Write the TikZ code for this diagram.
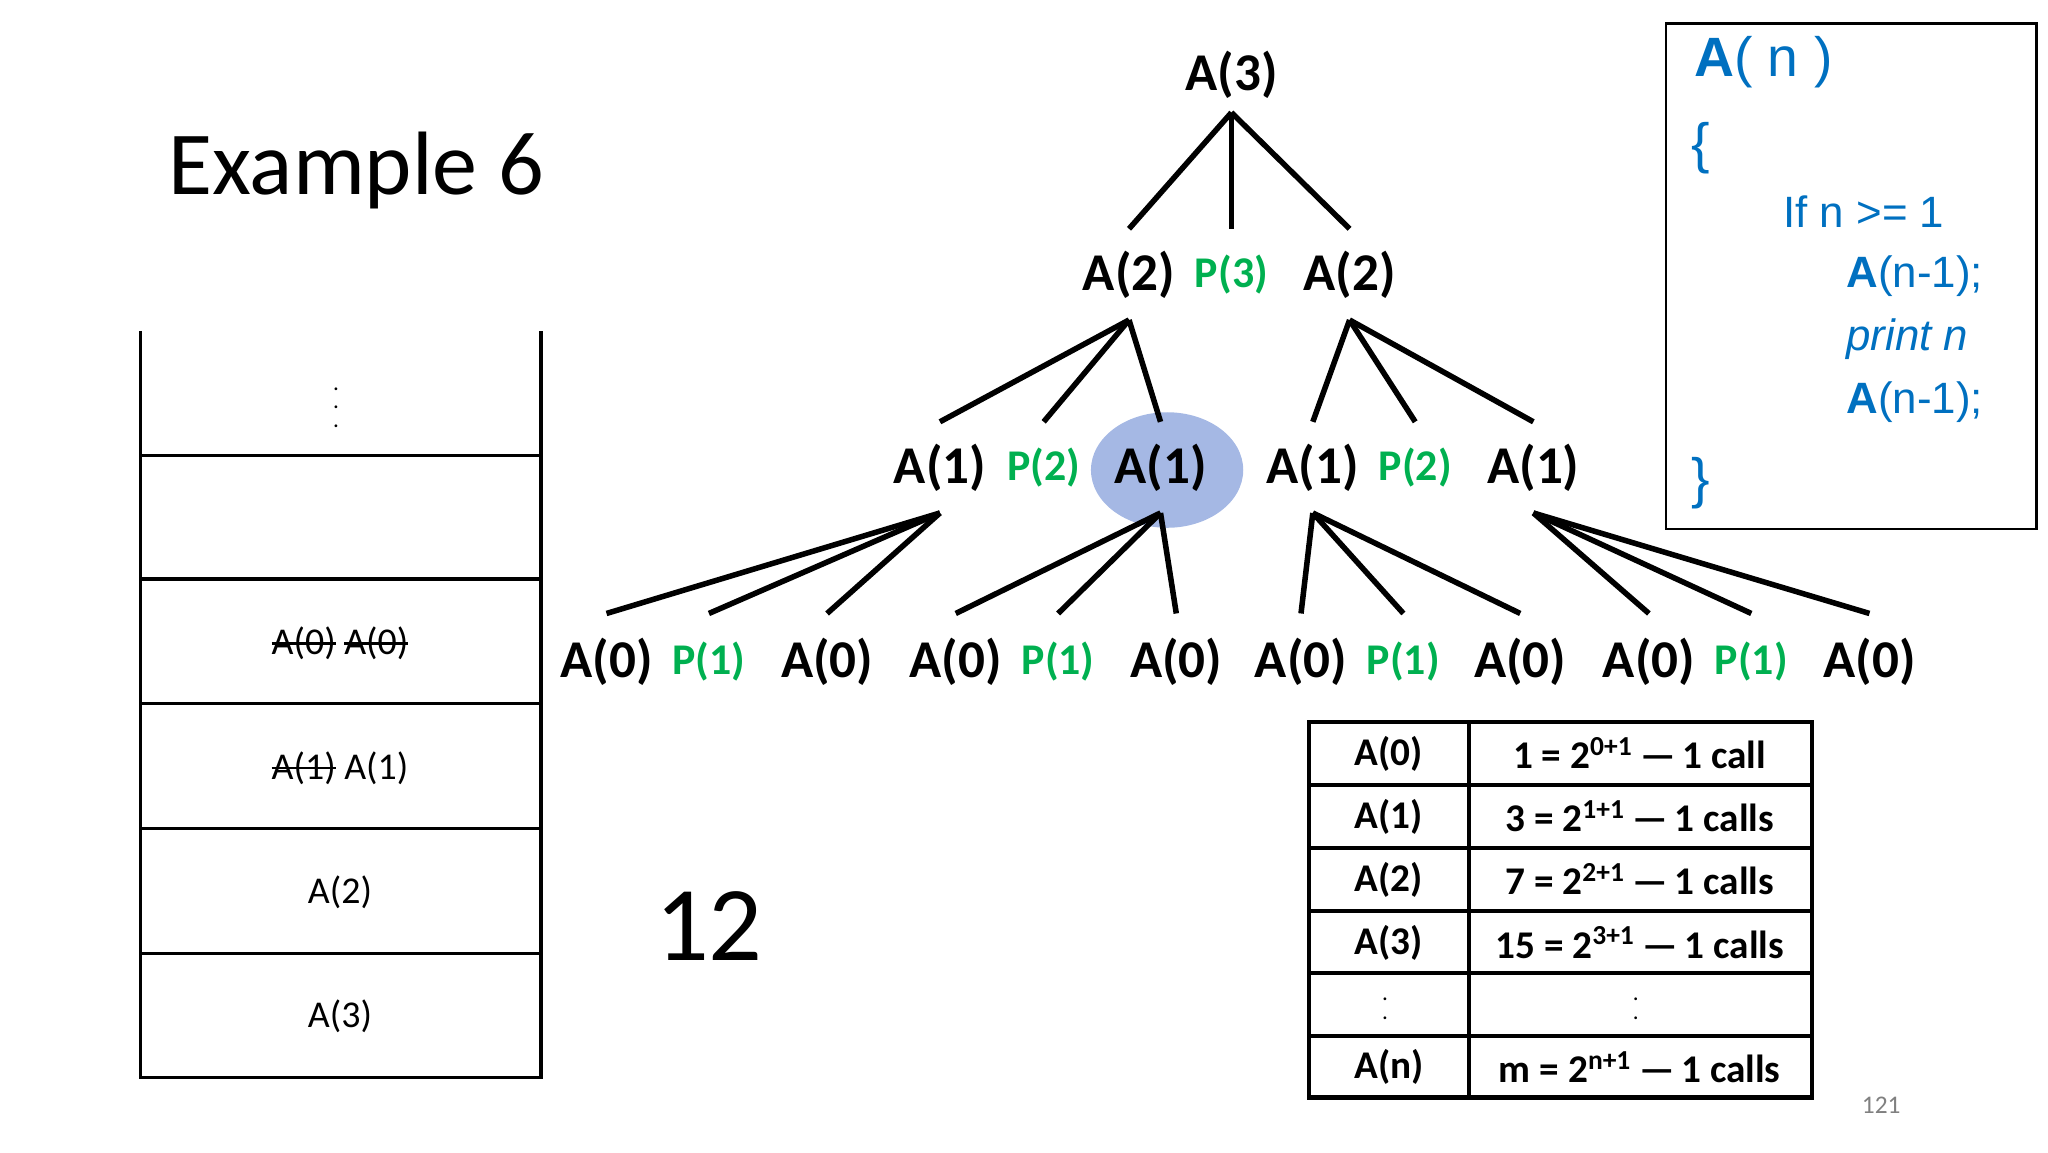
\documentclass[tikz,border=0pt]{standalone}
\usepackage{fontspec}
\setmainfont{Carlito}
\newfontfamily\arialf{Liberation Sans}
\definecolor{pgreen}{RGB}{0,176,80}
\definecolor{cblue}{RGB}{0,112,192}
\definecolor{ellfill}{RGB}{165,184,228}
\newsavebox\strkbox
\newcommand\strk[1]{\sbox\strkbox{#1}\rlap{\rule[0.55ex]{\wd\strkbox}{0.5pt}}\usebox\strkbox}
\begin{document}
\begin{tikzpicture}[x=0.01cm,y=-0.01cm,
  tn/.style={font=\bfseries\fontsize{11.5}{13}\selectfont,inner sep=0pt,minimum height=0.68cm},
  pn/.style={tn,text=pgreen,font=\bfseries\fontsize{9.5}{11}\selectfont},
  ed/.style={line width=1.2pt},
  cell/.style={font=\fontsize{8.2}{10}\selectfont},
  tb/.style={font=\bfseries\fontsize{8.5}{10}\selectfont},
  code/.style={font=\arialf\fontsize{9.5}{11}\selectfont,text=cblue,anchor=west}]
\useasboundingbox (0,0) rectangle (1560,877.5);
% title
\node[anchor=west,font=\fontsize{19.5}{22}\selectfont] (title) at (116,130) {Example 6};
\node[font=\fontsize{23}{26}\selectfont] (twelve) at (540,705) {12};
\node[text=gray,font=\fontsize{5.5}{6}\selectfont] (pg) at (1433,842) {121};
% stack
\draw[line width=0.7pt] (107,252) -- (107,821) -- (412,821) -- (412,252);
\foreach \y in {347,441,536,631,726} \draw[line width=0.7pt] (107,\y) -- (412,\y);
\node[font=\tiny] (s1) at (256,300) {$\vdots$};
\node[cell] (s3) at (259,490) {\strk{A(0)} \strk{A(0)}};
\node[cell] (s4) at (259,585) {\strk{A(1)} A(1)};
\node[cell] (s5) at (259,680) {A(2)};
\node[cell] (s6) at (259,774) {A(3)};
% highlight
\fill[ellfill] (889,358) ellipse [x radius=58, y radius=44];
% tree
\node[tn,minimum height=0.56cm] (r) at (938,57) {A(3)};
\node[tn] (a) at (860,209) {A(2)};
\node[pn] (p3) at (938,209) {P(3)};
\node[tn] (b) at (1028,209) {A(2)};
\foreach \n/\x/\s/\t in {c/716/tn/A(1),pc/795/pn/P(2),d/884/tn/A(1),e/1000/tn/A(1),pe/1078/pn/P(2),f/1168/tn/A(1)}
  \node[\s] (\n) at (\x,356) {\t};
\foreach \n/\x in {g1/462,g3/630,h1/728,h3/896,i1/991,i3/1158,j1/1256,j3/1424}
  \node[tn,minimum height=0.72cm] (\n) at (\x,504) {A(0)};
\foreach \n/\x in {g2/540,h2/806,i2/1069,j2/1334}
  \node[pn,minimum height=0.72cm] (\n) at (\x,504) {P(1)};
\foreach \p/\c in {r/a,r/p3,r/b,a/c,a/pc,a/d,b/e,b/pe,b/f,c/g1,c/g2,c/g3,d/h1,d/h2,d/h3,e/i1,e/i2,e/i3,f/j1,f/j2,f/j3}
  \draw[ed] (\p.south) -- (\c.north);
% code box
\draw[line width=0.6pt] (1269,18) rectangle (1551,403);
\node[code,font=\arialf\fontsize{12}{14}\selectfont] (c1) at (1278,47) {\textbf{A}( n )};
\node[code,font=\arialf\fontsize{12}{14}\selectfont] (c2) at (1276,113) {\{};
\node[code] (c3) at (1346,161) {If n >= 1};
\node[code] (c4) at (1394,210) {\textbf{A}(n-1);};
\node[code] (c5) at (1394,258) {\itshape print n};
\node[code] (c6) at (1394,306) {\textbf{A}(n-1);};
\node[code,font=\arialf\fontsize{12}{14}\selectfont] (c7) at (1276,368) {\}};
% table
\draw[line width=0.9pt] (997,550) rectangle (1380,836);
\draw[line width=0.9pt] (1119,550) -- (1119,836);
\foreach \y in {598,646,694,741,789} \draw[line width=0.9pt] (997,\y) -- (1380,\y);
\foreach \n/\y/\l/\r in {t0/574/A(0)/{1 = 2\textsuperscript{0+1}\,—\,1 call},
  t1/622/A(1)/{3 = 2\textsuperscript{1+1}\,—\,1 calls},
  t2/670/A(2)/{7 = 2\textsuperscript{2+1}\,—\,1 calls},
  t3/718/A(3)/{15 = 2\textsuperscript{3+1}\,—\,1 calls},
  t5/813/A(n)/{m = 2\textsuperscript{n+1}\,—\,1 calls}}{
  \node[tb] (\n l) at (1058,\y) {\l};
  \node[tb] (\n r) at (1249,\y) {\r};}
\node[font=\tiny] (t4l) at (1055,765) {$\vdots$};
\node[font=\tiny] (t4r) at (1246,765) {$\vdots$};
\end{tikzpicture}
\end{document}
